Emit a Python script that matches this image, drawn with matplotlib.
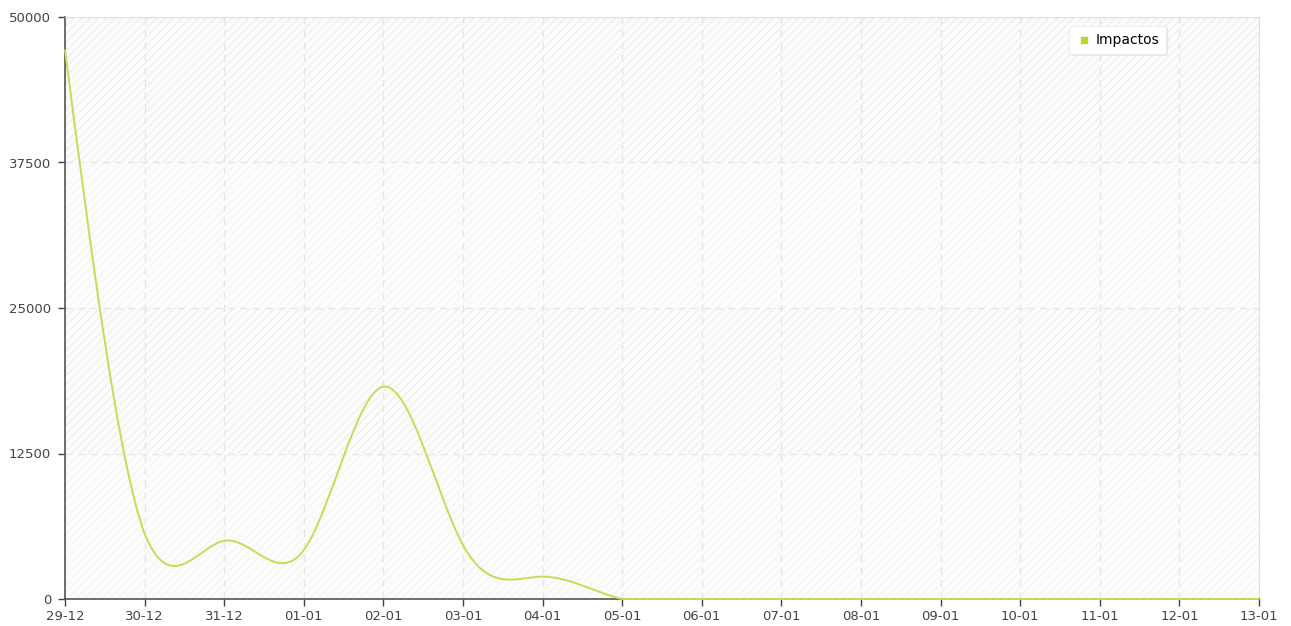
import numpy as np
import matplotlib.pyplot as plt
from matplotlib.path import Path
from matplotlib.patches import PathPatch, Rectangle

# data
days = ['29-12', '30-12', '31-12', '01-01', '02-01', '03-01', '04-01', '05-01',
        '06-01', '07-01', '08-01', '09-01', '10-01', '11-01', '12-01', '13-01']
impactos = [47200, 5600, 5000, 4200, 18240, 4640, 1920, 0,
            0, 0, 0, 0, 0, 0, 0, 0]
yticks = [0, 12500, 25000, 37500, 50000]

line_color = '#c3de55'

plt.rcParams['hatch.linewidth'] = 0.6

fig = plt.figure(figsize=(12.91, 6.26), dpi=100)
ax = fig.add_axes([65 / 1291, 1 - 599 / 626, 1194 / 1291, 582 / 626])

x = np.arange(len(days), dtype=float)
y = np.array(impactos, dtype=float)

# smooth line: natural cubic spline drawn as bezier segments
n = len(x)
A = np.zeros((n, n))
b = np.zeros(n)
A[0, 0] = 1
A[-1, -1] = 1
for i in range(1, n - 1):
    A[i, i - 1] = 1
    A[i, i] = 4
    A[i, i + 1] = 1
    b[i] = 6 * (y[i + 1] - 2 * y[i] + y[i - 1])
M = np.linalg.solve(A, b)
slopes = np.zeros(n)
for i in range(n - 1):
    slopes[i] = (y[i + 1] - y[i]) - (2 * M[i] + M[i + 1]) / 6
slopes[-1] = (y[-1] - y[-2]) + (M[-2] + 2 * M[-1]) / 6

verts = [(x[0], y[0])]
codes = [Path.MOVETO]
for i in range(n - 1):
    c1 = max(y[i] + slopes[i] / 3, 0)
    c2 = max(y[i + 1] - slopes[i + 1] / 3, 0)
    if y[i] == 0 and y[i + 1] == 0:
        c1 = c2 = 0
    verts += [(x[i] + 1 / 3, c1), (x[i + 1] - 1 / 3, c2), (x[i + 1], y[i + 1])]
    codes += [Path.CURVE4] * 3
curve = PathPatch(Path(verts, codes), facecolor='none', edgecolor=line_color,
                  linewidth=1.4, zorder=5, clip_on=False)
ax.add_patch(curve)

# background: faint hatch with alternating stronger bands
ax.set_facecolor('#fcfcfc')
ax.add_patch(Rectangle((0, 0), 1, 1, transform=ax.transAxes, facecolor='none',
                       edgecolor='#f2f2f2', hatch='////', linewidth=0, zorder=0))
for lo, hi in [(12500, 25000), (37500, 50000)]:
    ax.axhspan(lo, hi, facecolor='none', edgecolor='#ececec', hatch='////',
               linewidth=0, zorder=0)

ax.set_xlim(0, n - 1)
ax.set_ylim(0, 50000)
ax.set_xticks(x)
ax.set_xticklabels(days)
ax.set_yticks(yticks)
ax.set_yticklabels([str(v) for v in yticks])

ax.grid(True, color='#e6e6e6', linestyle=(0, (5, 4)), linewidth=1, zorder=1)
ax.set_axisbelow(True)

ax.tick_params(colors='#444444', labelsize=9.5, length=5, width=1)
ax.tick_params(axis='x', pad=3)
ax.tick_params(axis='y', pad=5)
for s in ['left', 'bottom']:
    ax.spines[s].set_color('#555555')
    ax.spines[s].set_linewidth(1.2)
for s in ['top', 'right']:
    ax.spines[s].set_color('#e0e0e0')

# legend
h = ax.scatter([], [], marker='s', s=14, color='#b8d62e', label='Impactos')
leg = ax.legend(handles=[h], loc='upper right', bbox_to_anchor=(0.922, 0.985),
                frameon=True, fancybox=True, fontsize=10,
                shadow={'ox': 1.2, 'oy': -1.2, 'color': '#e4e4e4', 'alpha': 1},
                handletextpad=0.2, borderpad=0.5, handlelength=1.2,
                borderaxespad=0)
leg.get_frame().set_edgecolor('#f0f0f0')
leg.get_frame().set_facecolor('white')
leg.get_frame().set_alpha(1)

fig.savefig('out.png', dpi=100)
